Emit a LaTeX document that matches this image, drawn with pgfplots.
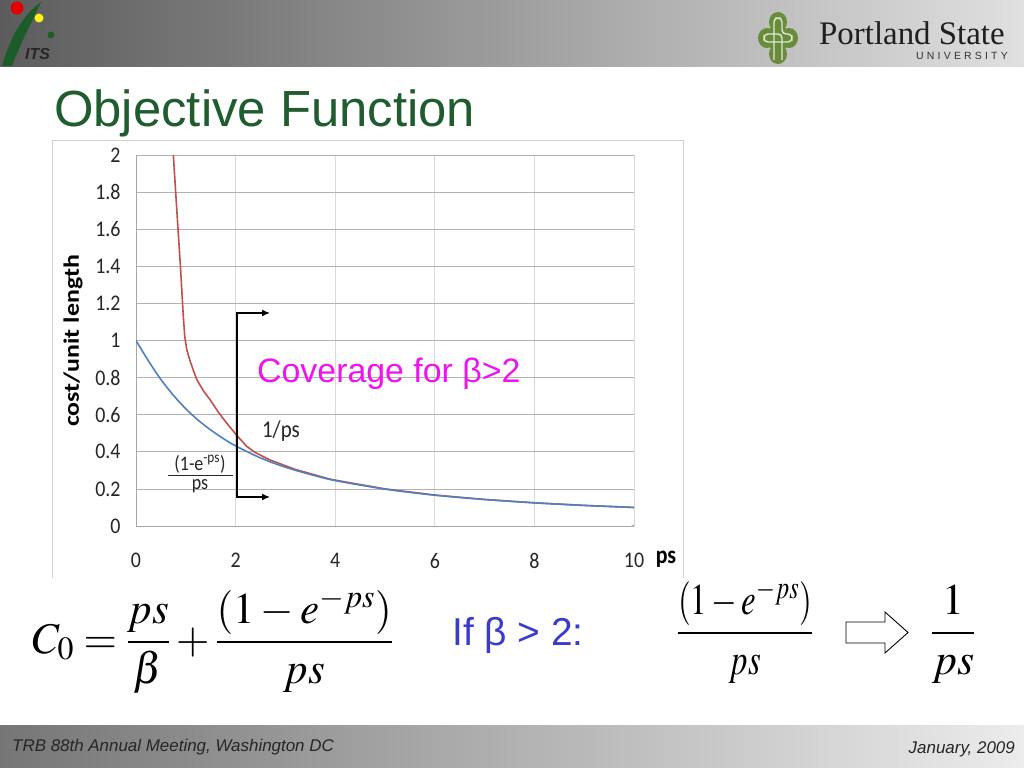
\documentclass[border=0pt]{standalone}
\usepackage{amsmath}
\usepackage{mathptmx}
\usepackage{graphicx}
\usepackage{pgfplots}
\pgfplotsset{compat=1.18}
\usepackage{fontspec}
\setmainfont{Liberation Sans}
\newfontfamily\carlito{Carlito}
\newfontfamily\serifps{Liberation Serif}
\usetikzlibrary{arrows.meta}

\definecolor{hdrL}{RGB}{92,92,92}
\definecolor{hdrR}{RGB}{224,224,224}
\definecolor{ftrL}{RGB}{118,118,118}
\definecolor{ftrR}{RGB}{236,236,236}
\definecolor{titlegreen}{RGB}{31,92,46}
\definecolor{psugreen}{RGB}{104,140,58}
\definecolor{itsgreen}{RGB}{28,92,40}
\definecolor{xlred}{RGB}{192,80,77}
\definecolor{xlblue}{RGB}{79,129,189}
\definecolor{gridv}{RGB}{217,217,217}
\definecolor{gridh}{RGB}{178,178,178}
\definecolor{ticktext}{RGB}{38,38,38}
\definecolor{cover}{RGB}{238,20,238}
\definecolor{ifblue}{RGB}{58,58,207}

\begin{document}
\begin{tikzpicture}[x=1bp,y=-1bp]
\useasboundingbox (0,0) rectangle (1024,768);
\fill[white] (0,0) rectangle (1024,768);

% header and footer bars
\shade[left color=hdrL, right color=hdrR] (0,0) rectangle (1024,67);
\shade[left color=ftrL, right color=ftrR] (0,725) rectangle (1024,768);

% ITS logo
\fill[itsgreen] (2,66) .. controls (10,38) and (22,16) .. (41,2) .. controls (32,22) and (20,44) .. (12,66) -- cycle;
\fill[red!90!black] (17,8) circle (6.5);
\fill[yellow!90!white] (39,18) circle (4.5);
\fill[itsgreen] (51,35) circle (3.5);
\node[font=\bfseries\itshape\fontsize{16}{16}\selectfont, text=black!85, anchor=west, inner sep=0] at (25,54) {ITS};

% Portland State logo
\begin{scope}[psugreen]
\fill (778,22) ellipse (9 and 10);
\fill (778,54) ellipse (9 and 10);
\fill (767,38) ellipse (9 and 10);
\fill (789,38) ellipse (9 and 10);
\fill (770,28) rectangle (786,48);
\end{scope}
\draw[white!80!psugreen, line width=1.4bp, rounded corners=4bp]
  (774,60) -- (774,18) -- (782,18) -- (782,34) -- (792,34) -- (792,42) -- (764,42) -- (764,34) -- (782,34) -- (782,60);
\node[font=\serifps\fontsize{33}{33}\selectfont, text=black!88, anchor=base west, inner sep=0] at (819,45) {Portland State};
\node[font=\fontsize{10.5}{10.5}\selectfont, text=black!80, anchor=base east, inner sep=0] at (1008,60) {U\hspace{3.2bp}N\hspace{3.2bp}I\hspace{3.2bp}V\hspace{3.2bp}E\hspace{3.2bp}R\hspace{3.2bp}S\hspace{3.2bp}I\hspace{3.2bp}T\hspace{3.2bp}Y};

% title
\node[font=\fontsize{51}{51}\selectfont, text=titlegreen, anchor=base west, inner sep=0] at (54,126) {Objective Function};

% chart frame
\draw[gray!35] (52,578) -- (52,140) -- (683,140) -- (683,578);

\begin{axis}[
  at={(136bp,-526bp)}, anchor=south west,
  scale only axis, width=498bp, height=371bp,
  xmin=0, xmax=10, ymin=0, ymax=2,
  xtick={0,2,4,6,8,10},
  ytick={0,0.2,0.4,0.6,0.8,1,1.2,1.4,1.6,1.8,2},
  grid=major,
  x grid style={draw=gridv, line width=0.8bp},
  y grid style={draw=gridh, line width=0.8bp},
  axis line style={draw=none},
  major tick length=0pt,
  /pgf/number format/assume math mode=true,
  ticklabel style={font=\carlito\fontsize{20}{20}\selectfont, text=ticktext, yscale=1.12},
  yticklabel style={xshift=-12bp},
  xticklabel style={yshift=-21bp},
]
\draw[gray!70, line width=0.8bp, -{Stealth[length=5bp,width=3.5bp]}] (axis cs:0,0) -- (axis cs:0,2.02);
\draw[gray!70, line width=0.8bp, -{Stealth[length=5bp,width=3.5bp]}] (axis cs:0,0) -- (axis cs:10.05,0);

% 1/ps
\addplot[xlred, line width=1.6bp] coordinates {
  (0.75,2.0) (0.82,1.70) (0.89,1.41) (0.95,1.13) (0.98,1.02) (1.02,0.95)
  (1.08,0.895) (1.15,0.84) (1.22,0.79) (1.35,0.73) (1.49,0.68) (1.65,0.615)
  (1.82,0.555) (2.02,0.49) (2.22,0.43) (2.40,0.395) (2.69,0.356) (3.20,0.305)
  (3.90,0.252) (5.00,0.200) (6.00,0.167) (7.00,0.143) (8.00,0.125) (9.00,0.111)
  (10.00,0.100)
};
% (1-e^-ps)/ps
\addplot[xlblue, line width=1.6bp, smooth] coordinates {
  (0,1.0) (0.25,0.89) (0.5,0.79) (0.75,0.705) (1.0,0.632) (1.25,0.57)
  (1.5,0.518) (1.75,0.472) (2.0,0.432) (2.5,0.367) (3.0,0.317) (3.5,0.278)
  (4.0,0.245) (5.0,0.199) (6.0,0.166) (7.0,0.143) (8.0,0.125) (9.0,0.111)
  (10.0,0.100)
};
\end{axis}

% axis titles
\node[rotate=90, font=\carlito\bfseries\fontsize{22}{22}\selectfont, text=black] at (73,341) {\scalebox{1.18}[1]{cost/unit length}};
\node[font=\carlito\bfseries\fontsize{22}{22}\selectfont, text=black, yscale=1.15] at (666,559) {ps};

% coverage bracket
\draw[black, line width=1.3bp] (237,313) -- (237,497);
\draw[black, line width=1.3bp, -{Latex[length=8bp,width=7bp]}] (236.4,313) -- (270,313);
\draw[black, line width=1.3bp, -{Latex[length=8bp,width=7bp]}] (236.4,497) -- (270,497);
\node[font=\fontsize{34}{34}\selectfont, text=cover, anchor=base west, inner sep=0] at (257,382) {Coverage for β>2};
\node[font=\carlito\fontsize{21}{21}\selectfont, text=black!85, yscale=1.15] at (281,431) {1/ps};
\node[font=\carlito\fontsize{18}{18}\selectfont, text=black!85, yscale=1.15] at (200,464) {(1-e\textsuperscript{-ps})};
\draw[black!85, line width=0.9bp] (168,475) -- (233,475);
\node[font=\carlito\fontsize{18}{18}\selectfont, text=black!85, yscale=1.15] at (200,486) {ps};

% formulas
\node[font=\fontsize{44}{44}\selectfont, anchor=base west, inner sep=0, xscale=0.98] at (32,653)
  {$C_0=\dfrac{ps}{\beta}+\dfrac{(1-e^{-ps})}{ps}$};
\node[font=\fontsize{39}{39}\selectfont, text=ifblue, anchor=base west, inner sep=0] at (452,645) {If β > 2:};
\node[font=\fontsize{44}{44}\selectfont, anchor=base, inner sep=0, xscale=0.75] at (745,644)
  {$\dfrac{(1-e^{-ps})}{ps}$};
\draw[black, line width=0.9bp, fill=white] (846,622) -- (885,622) -- (885,612) -- (908,632.5) -- (885,653) -- (885,643) -- (846,643) -- cycle;
\node[font=\fontsize{44}{44}\selectfont, anchor=base, inner sep=0] at (953,644)
  {$\dfrac{1}{ps}$};

% footer text
\node[font=\itshape\fontsize{17}{17}\selectfont, text=black!85, anchor=west, inner sep=0] at (12,747) {TRB 88th Annual Meeting, Washington DC};
\node[font=\itshape\fontsize{17}{17}\selectfont, text=black!85, anchor=east, inner sep=0] at (1015,749) {January, 2009};
\end{tikzpicture}
\end{document}
